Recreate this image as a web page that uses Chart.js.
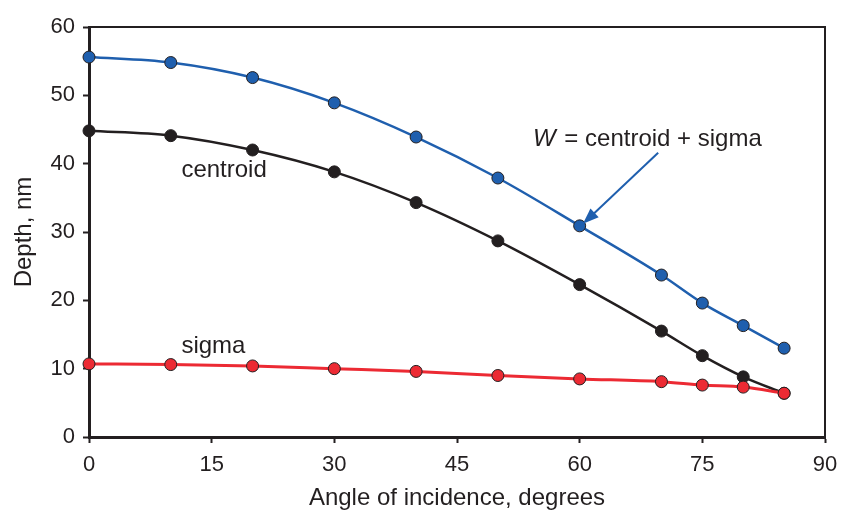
<!DOCTYPE html>
<html>
<head>
<meta charset="utf-8">
<script src="https://cdn.jsdelivr.net/npm/chart.js@4.4.1/dist/chart.umd.min.js"></script>
<style>
  html, body { margin: 0; padding: 0; background: #fff; }
  #wrap { width: 841px; height: 513px; position: relative; }
</style>
</head>
<body>
<div id="wrap"><canvas id="depthChart"></canvas></div>
<script>
var angles = [0, 10, 20, 30, 40, 50, 60, 70, 75, 80, 85];
var widthW = [55.6, 54.8, 52.6, 48.9, 43.9, 37.9, 30.9, 23.7, 19.6, 16.3, 13.0];
var centroid = [44.8, 44.1, 42.0, 38.8, 34.3, 28.7, 22.3, 15.5, 11.9, 8.8, 6.4];
var sigma = [10.7, 10.6, 10.4, 10.0, 9.6, 9.0, 8.5, 8.1, 7.6, 7.3, 6.4];
var xTicks = [0, 15, 30, 45, 60, 75, 90];
var yTicks = [0, 10, 20, 30, 40, 50, 60];

var ink = '#231f20';
var blue = '#1f5fae';
var red = '#ec2a33';
var font = '"Liberation Sans", Arial, sans-serif';

function pts(ys) {
  return angles.map(function (a, i) { return { x: a, y: ys[i] }; });
}

function series(label, ys, color, lw) {
  return {
    label: label,
    data: pts(ys),
    borderColor: color,
    borderWidth: lw,
    backgroundColor: color,
    pointBackgroundColor: color,
    pointBorderColor: ink,
    pointBorderWidth: 1,
    pointRadius: 6,
    cubicInterpolationMode: 'monotone',
    clip: false
  };
}

// labels, arrow and top/right frame
var notes = {
  id: 'notes',
  afterDatasetsDraw: function (chart) {
    var c = chart.ctx, a = chart.chartArea;
    var xs = chart.scales.x, ys = chart.scales.y;
    c.save();
    c.strokeStyle = ink;
    c.lineWidth = 2;
    c.beginPath();
    c.moveTo(a.left, a.top);
    c.lineTo(a.right, a.top);
    c.lineTo(a.right, a.bottom);
    c.stroke();

    c.fillStyle = ink;
    c.font = '24px ' + font;
    c.textBaseline = 'alphabetic';
    c.textAlign = 'left';
    c.fillText('centroid', xs.getPixelForValue(11.3), ys.getPixelForValue(38.0));
    c.fillText('sigma', xs.getPixelForValue(11.3), ys.getPixelForValue(12.3));

    var tx = xs.getPixelForValue(54.3), ty = ys.getPixelForValue(42.6);
    c.font = 'italic 24px ' + font;
    c.fillText('W', tx, ty);
    var ww = c.measureText('W').width;
    c.font = '24px ' + font;
    c.fillText(' = centroid + sigma', tx + ww + 2, ty);

    var x0 = xs.getPixelForValue(69.6), y0 = ys.getPixelForValue(41.6);
    var x1 = xs.getPixelForValue(60.4), y1 = ys.getPixelForValue(31.2);
    var ang = Math.atan2(y1 - y0, x1 - x0);
    c.strokeStyle = blue;
    c.fillStyle = blue;
    c.lineWidth = 2;
    c.beginPath();
    c.moveTo(x0, y0);
    c.lineTo(x1 - 10 * Math.cos(ang), y1 - 10 * Math.sin(ang));
    c.stroke();
    c.beginPath();
    c.moveTo(x1, y1);
    c.lineTo(x1 - 16 * Math.cos(ang) + 6 * Math.sin(ang), y1 - 16 * Math.sin(ang) - 6 * Math.cos(ang));
    c.lineTo(x1 - 16 * Math.cos(ang) - 6 * Math.sin(ang), y1 - 16 * Math.sin(ang) + 6 * Math.cos(ang));
    c.closePath();
    c.fill();
    c.restore();
  }
};

new Chart(document.getElementById('depthChart').getContext('2d'), {
  type: 'line',
  data: {
    // first dataset is painted on top
    datasets: [
      series('sigma', sigma, red, 3),
      series('centroid', centroid, ink, 2.5),
      series('W', widthW, blue, 2.5)
    ]
  },
  plugins: [notes],
  options: {
    responsive: true,
    maintainAspectRatio: false,
    animation: false,
    layout: { padding: { top: 27, right: 16, left: 0, bottom: 0 } },
    plugins: {
      legend: { display: false },
      tooltip: { enabled: false }
    },
    scales: {
      x: {
        type: 'linear',
        min: 0,
        max: 90,
        afterBuildTicks: function (s) { s.ticks = xTicks.map(function (v) { return { value: v }; }); },
        afterFit: function (s) { s.height = 76; s.paddingLeft = 0; s.paddingRight = 0; },
        border: { color: ink, width: 3 },
        grid: { drawOnChartArea: false, color: ink, tickLength: 6, tickWidth: 2 },
        ticks: { color: ink, font: { family: font, size: 22 }, padding: 9, maxRotation: 0 },
        title: {
          display: true,
          text: 'Angle of incidence, degrees',
          color: ink,
          font: { family: font, size: 24 },
          padding: { top: 0, bottom: 0 }
        }
      },
      y: {
        min: 0,
        max: 60,
        afterBuildTicks: function (s) { s.ticks = yTicks.map(function (v) { return { value: v }; }); },
        afterFit: function (s) { s.width = 89; s.paddingTop = 0; s.paddingBottom = 0; },
        border: { color: ink, width: 3 },
        grid: { drawOnChartArea: false, color: ink, tickLength: 6, tickWidth: 2 },
        ticks: { color: ink, font: { family: font, size: 22 }, padding: 8 },
        title: {
          display: true,
          text: 'Depth, nm',
          color: ink,
          font: { family: font, size: 24 },
          padding: { top: 10, bottom: 0 }
        }
      }
    }
  }
});
</script>
</body>
</html>
